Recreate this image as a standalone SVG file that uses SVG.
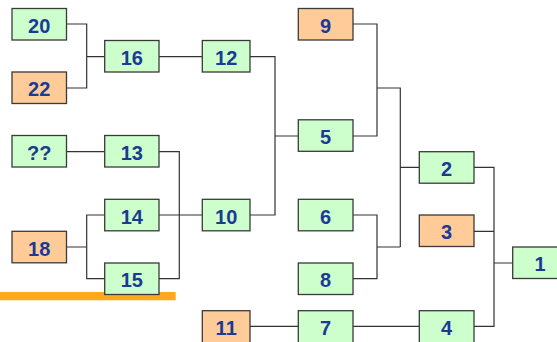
<svg xmlns="http://www.w3.org/2000/svg" width="557" height="342" viewBox="0 0 557 342">
<style>
.g{fill:#CCFFCC;stroke:#3a3a3a;stroke-width:1.3}
.o{fill:#FFCC99;stroke:#3a3a3a;stroke-width:1.3}
text{font-family:"Liberation Sans",Arial,sans-serif;font-weight:bold;font-size:20px;fill:#1B3A94;text-anchor:middle}
#connectors path{fill:none;stroke:#333;stroke-width:1.2}
</style>
<g id="connectors">
<path d="M66.5,24H86.7V88H66.5M86.7,56.7H104.7"/>
<path d="M159,56.7H202.3"/>
<path d="M66.5,151.7H104.7"/>
<path d="M159,151.7H179.3V278.7H159"/>
<path d="M66.5,247H86.7M104.7,215H86.7V278.7H104.7"/>
<path d="M159,215H202.3"/>
<path d="M250,56.7H275V215H250M275,136H298.3"/>
<path d="M353,24H377V136H353M377,88H400.3V247M400.3,167.3H419.3"/>
<path d="M353,215H377V278.7H353M377,247H400.3"/>
<path d="M474,167.3H494V326.3H474M474,231.3H494M494,263H512.7"/>
<path d="M250,326.3H298.3M353,326.3H419.3"/>
</g>
<rect x="0" y="292" width="175.7" height="8.3" fill="#FFA81F"/>
<g id="n20"><rect class="g" x="12" y="8.5" width="54.5" height="31.5"/><text x="39.2" y="32.8">20</text></g>
<g id="n22"><rect class="o" x="12" y="72" width="54.5" height="31.5"/><text x="39.2" y="96.3">22</text></g>
<g id="nqq"><rect class="g" x="12" y="135.5" width="54.5" height="31.5"/><text x="39.2" y="159.8">??</text></g>
<g id="n18"><rect class="o" x="12" y="231.3" width="54.5" height="31.5"/><text x="39.2" y="255.6">18</text></g>
<g id="n16"><rect class="g" x="104.7" y="40.5" width="54.3" height="31.5"/><text x="131.8" y="64.8">16</text></g>
<g id="n13"><rect class="g" x="104.7" y="135.5" width="54.3" height="31.5"/><text x="131.8" y="159.8">13</text></g>
<g id="n14"><rect class="g" x="104.7" y="199.3" width="54.3" height="31.5"/><text x="131.8" y="223.6">14</text></g>
<g id="n15"><rect class="g" x="104.7" y="263" width="54.3" height="31.5"/><text x="131.8" y="287.3">15</text></g>
<g id="n12"><rect class="g" x="202.3" y="40.5" width="47.7" height="31.5"/><text x="226.2" y="64.8">12</text></g>
<g id="n10"><rect class="g" x="202.3" y="199.3" width="47.7" height="31.5"/><text x="226.2" y="223.6">10</text></g>
<g id="n11"><rect class="o" x="202.3" y="310.7" width="47.7" height="33"/><text x="226.2" y="335">11</text></g>
<g id="n9"><rect class="o" x="298.3" y="8.5" width="54.7" height="31.5"/><text x="325.6" y="32.8">9</text></g>
<g id="n5"><rect class="g" x="298.3" y="119.8" width="54.7" height="31.5"/><text x="325.6" y="144.1">5</text></g>
<g id="n6"><rect class="g" x="298.3" y="199.3" width="54.7" height="31.5"/><text x="325.6" y="223.6">6</text></g>
<g id="n8"><rect class="g" x="298.3" y="263" width="54.7" height="31.5"/><text x="325.6" y="287.3">8</text></g>
<g id="n7"><rect class="g" x="298.3" y="310.7" width="54.7" height="33"/><text x="325.6" y="335">7</text></g>
<g id="n2"><rect class="g" x="419.3" y="151.7" width="54.7" height="31.5"/><text x="446.6" y="176">2</text></g>
<g id="n3"><rect class="o" x="419.3" y="215" width="54.7" height="31.5"/><text x="446.6" y="239.3">3</text></g>
<g id="n4"><rect class="g" x="419.3" y="310.7" width="54.7" height="33"/><text x="446.6" y="335">4</text></g>
<g id="n1"><rect class="g" x="512.7" y="247" width="54.7" height="31.5"/><text x="540" y="271.3">1</text></g>
</svg>
